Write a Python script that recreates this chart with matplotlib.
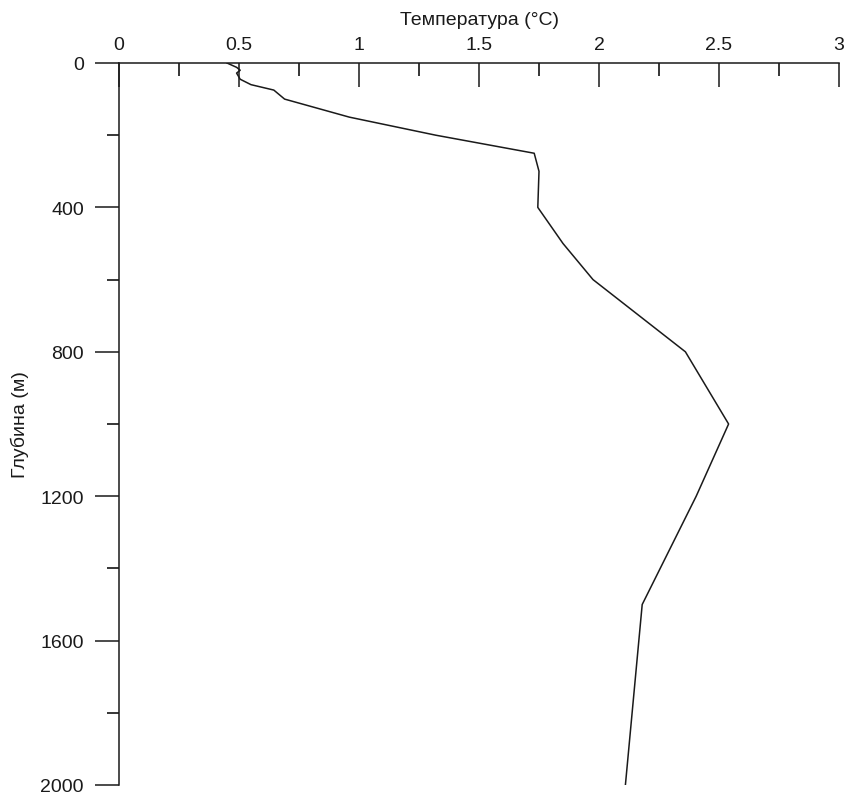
import matplotlib
matplotlib.use("Agg")
import matplotlib.pyplot as plt
from matplotlib.ticker import MultipleLocator

depth = [0, 12, 20, 28, 45, 60, 75, 100, 150, 200, 250, 300, 400, 500, 600, 800, 1000, 1200, 1500, 2000]
temperature = [0.45, 0.49, 0.505, 0.49, 0.505, 0.55, 0.645, 0.69, 0.96, 1.32, 1.73, 1.75, 1.745, 1.85, 1.975, 2.36, 2.54, 2.405, 2.18, 2.11]

x_label = "Температура (°C)"
y_label = "Глубина (м)"

plt.rcParams['font.family'] = ['Liberation Sans', 'DejaVu Sans']

fig = plt.figure(figsize=(8.49, 8.03), dpi=100)
ax = fig.add_axes([119/849, 1 - 786/803, (839 - 119)/849, (786 - 64)/803])

ax.plot(temperature, depth, color='#1a1a1a', lw=1.1)

ax.set_xlim(0, 3)
ax.set_ylim(2000, 0)
ax.xaxis.set_major_locator(MultipleLocator(0.5))
ax.xaxis.set_minor_locator(MultipleLocator(0.25))
ax.yaxis.set_major_locator(MultipleLocator(400))
ax.yaxis.set_minor_locator(MultipleLocator(200))
ax.xaxis.set_major_formatter(matplotlib.ticker.FuncFormatter(lambda v, p: f"{v:g}"))

ax.xaxis.tick_top()
ax.xaxis.set_label_position('top')
for s in ['right', 'bottom']:
    ax.spines[s].set_visible(False)
for s in ['top', 'left']:
    ax.spines[s].set_linewidth(1.1)
    ax.spines[s].set_color('#1a1a1a')

ax.tick_params(axis='x', which='major', direction='in', length=17.5, width=1.1, pad=7.5, labelsize=14, colors='#1a1a1a')
ax.tick_params(axis='x', which='minor', direction='in', length=9, width=1.1)
ax.tick_params(axis='y', which='major', direction='out', length=17.5, width=1.1, pad=7.8, labelsize=14, colors='#1a1a1a')
ax.tick_params(axis='y', which='minor', direction='out', length=9, width=1.1)

ax.set_xlabel(x_label, fontsize=14, labelpad=8, color='#1a1a1a')
ax.set_ylabel(y_label, fontsize=14, labelpad=8.5, color='#1a1a1a')

fig.savefig("out.png", dpi=100)
